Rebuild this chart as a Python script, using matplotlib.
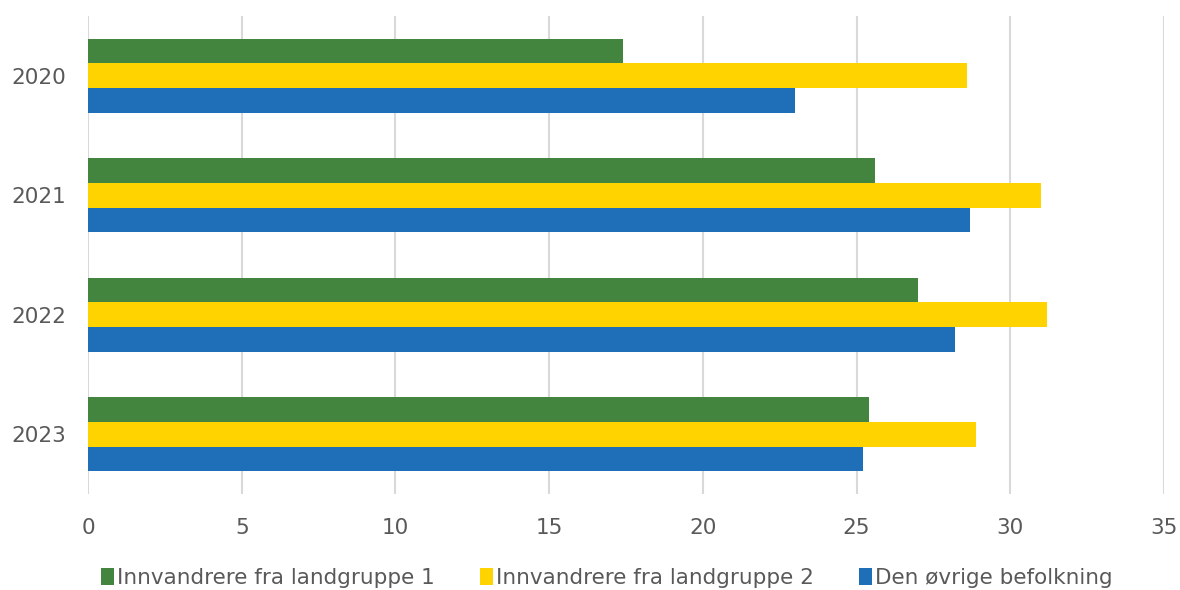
import numpy as np
import matplotlib
matplotlib.use('Agg')
import matplotlib.pyplot as plt
from matplotlib.patches import Patch

# ── Data ──────────────────────────────────────────────────────────────────────
years = ['2020', '2021', '2022', '2023']
series_names = ['Innvandrere fra landgruppe 1',
                'Innvandrere fra landgruppe 2',
                'Den øvrige befolkning']
landgruppe1 = [17.4, 25.6, 27.0, 25.4]
landgruppe2 = [28.6, 31.0, 31.2, 28.9]
ovrige = [23.0, 28.7, 28.2, 25.2]
x_ticks = [0, 5, 10, 15, 20, 25, 30, 35]

COLORS = ['#43843F', '#FFD300', '#1F6FB8']
TEXT = '#595959'

plt.rcParams['font.family'] = ['DejaVu Sans']

fig = plt.figure(figsize=(11.8, 5.9), dpi=100)
ax = fig.add_axes([88 / 1180, 1 - 494 / 590, (1164 - 88) / 1180, (494 - 16) / 590])

y = np.arange(len(years))
h = 0.207
for i, (vals, col) in enumerate(zip([landgruppe1, landgruppe2, ovrige], COLORS)):
    ax.barh(y + (i - 1) * h, vals, height=h, color=col, zorder=3)

ax.set_ylim(3.5, -0.5)
ax.set_xlim(0, 35)
ax.set_xticks(x_ticks)
ax.set_yticks(y)
ax.set_yticklabels(years)
ax.xaxis.grid(True, color='#D9D9D9', linewidth=1.5, zorder=0)
for s in ax.spines.values():
    s.set_visible(False)
ax.tick_params(axis='both', length=0, labelsize=15.5, colors=TEXT)
ax.tick_params(axis='x', pad=17)
ax.tick_params(axis='y', pad=15.5)

handles = [Patch(facecolor=c, label=n) for c, n in zip(COLORS, series_names)]
fig.legend(handles=handles, loc='center', bbox_to_anchor=(0.5 + 17 / 1180, 12 / 590), ncol=3,
           frameon=False, fontsize=15.5, labelcolor=TEXT, handlelength=0.6,
           handleheight=0.8, handletextpad=0.15, columnspacing=2.1)

fig.savefig('out.png', dpi=100)
